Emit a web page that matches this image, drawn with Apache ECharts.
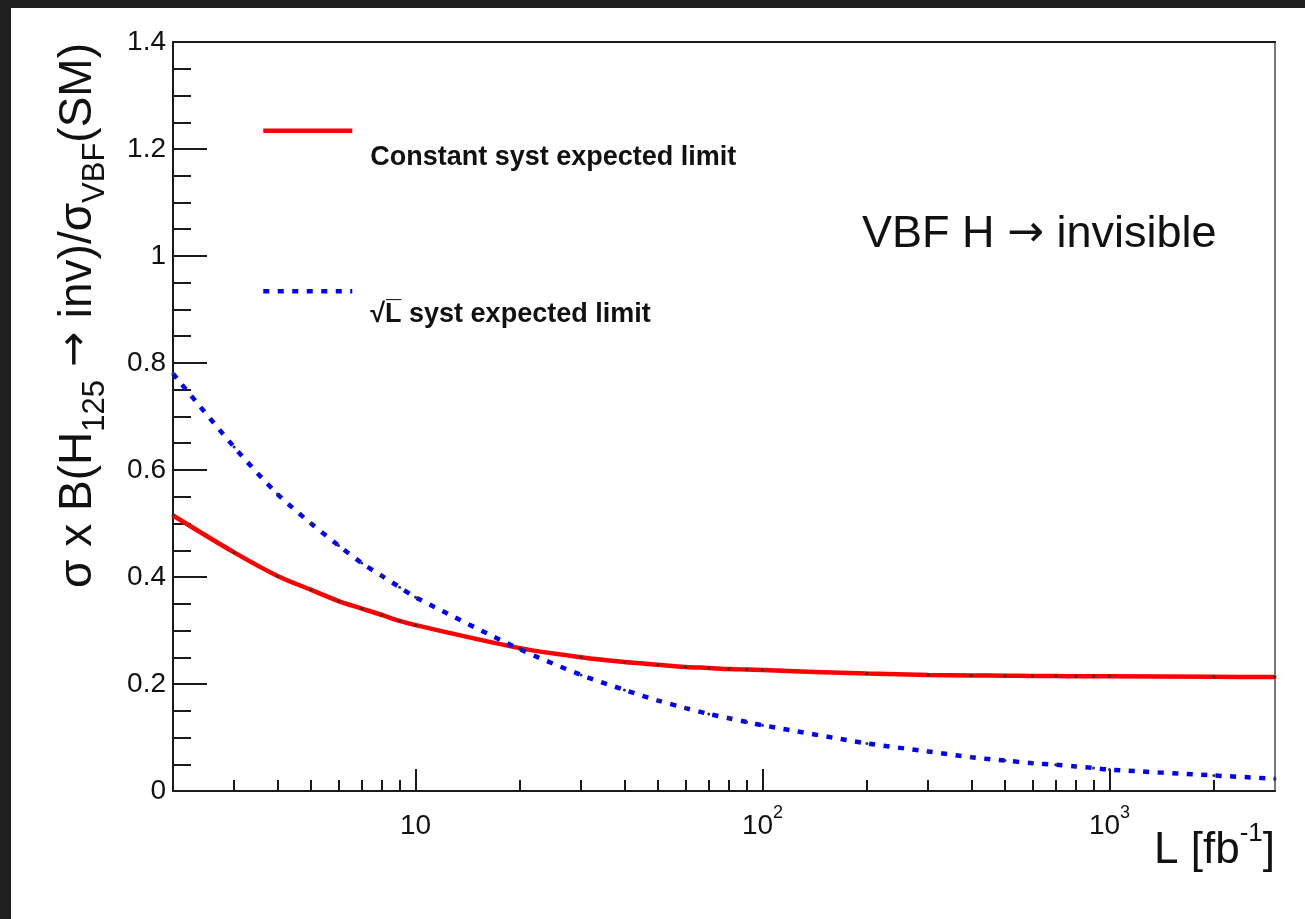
<!DOCTYPE html>
<html><head><meta charset="utf-8">
<script src="https://cdn.jsdelivr.net/npm/echarts@6/dist/echarts.min.js"></script>
<style>
html,body{margin:0;padding:0;background:#1f1f1f;width:1305px;height:919px;overflow:hidden;}
#chart{position:absolute;left:11px;top:8px;width:1294px;height:911px;background:#fff;}
</style></head><body><div id="chart"></div>
<script>
// Integrated luminosity L [fb^-1]
const luminosity = [2,3,4,5,6,7,8,9,10,20,30,40,50,60,70,80,90,100,200,300,400,500,600,700,800,900,1000,2000,3000];
// Constant syst expected limit
const constantSystLimit = [0.515,0.446,0.402,0.376,0.355,0.341,0.329,0.318,0.310,0.267,0.250,0.241,0.236,0.232,0.230,0.228,0.227,0.226,0.2195,0.217,0.216,0.2155,0.215,0.2148,0.2146,0.2145,0.2144,0.2135,0.213];
// sqrt(L) syst expected limit
const sqrtLSystLimit = [0.780,0.643,0.555,0.500,0.459,0.426,0.402,0.381,0.362,0.265,0.217,0.189,0.169,0.155,0.144,0.136,0.129,0.123,0.089,0.074,0.063,0.057,0.052,0.049,0.046,0.043,0.040,0.029,0.023];
const seriesNames = ['Constant syst expected limit', '\u221AL\u0305 syst expected limit'];
const xMajorTicks = [10, 100, 1000];
const xMajorLabels = ['{m|10}', '{m|10}{sup|2}', '{m|10}{sup|3}'];
const xMinorTicks = [3,4,5,6,7,8,9,20,30,40,50,60,70,80,90,200,300,400,500,600,700,800,900,2000];
const xRange = [2, 3000];
const yRange = [0, 1.4];
const yStep = 0.2;
const xTitle = '{m|L [fb}{sup|-1}{m|]}';
const yTitle = '{m|\u03C3 x B(H}{sub|125}{a| \u2192 }{m|inv)/\u03C3}{sub|VBF}{m|(SM)}';
const annotation = '{m|VBF H }{a|\u2192}{m| invisible}';

const FONT = '"Liberation Sans", Arial, Helvetica, sans-serif';
const ARROWFONT = '"DejaVu Sans", sans-serif';
const axisColor = '#1a1a1a';
const txt = '#111';
const lineSt = {color: axisColor, width: 2};

const chart = echarts.init(document.getElementById('chart'), null, {renderer: 'canvas'});

function labelFor(v) {
  for (let i = 0; i < xMajorTicks.length; i++) {
    if (Math.abs(Math.log10(v) - Math.log10(xMajorTicks[i])) < 1e-6) return xMajorLabels[i];
  }
  return '';
}

function legendCfg(name, top, padTop, lineStyle) {
  return {
    data: [name], left: 250, top: top, padding: 0, itemWidth: 89, itemHeight: 5,
    selectedMode: false, itemStyle: {opacity: 0}, lineStyle: lineStyle,
    formatter: n => '{t|' + n + '}',
    textStyle: {fontFamily: FONT, fontWeight: 'bold', fontSize: 27, color: txt,
      rich: {t: {fontFamily: FONT, fontWeight: 'bold', fontSize: 27, color: txt, padding: [padTop, 0, 0, 13]}}}
  };
}

const option = {
  animation: false,
  backgroundColor: '#ffffff',
  grid: {left: 162, top: 34, width: 1102, height: 749, show: false, containLabel: false, outerBoundsMode: 'none'},
  legend: [
    legendCfg(seriesNames[0], 120.5, 54, {width: 4.5, color: '#ff0000'}),
    legendCfg(seriesNames[1], 281, 46, {width: 4.5, color: '#0000ff', type: [6, 8.5]})
  ],
  xAxis: [
    {type: 'log', logBase: 10, min: xRange[0], max: xRange[1], position: 'bottom',
     axisLine: {show: true, lineStyle: lineSt},
     axisTick: {show: true, inside: true, length: 22, customValues: xMajorTicks, lineStyle: lineSt},
     axisLabel: {show: true, customValues: xMajorTicks, formatter: labelFor, margin: 13,
       rich: {m: {fontSize: 28, fontFamily: FONT, color: txt, verticalAlign: 'bottom', lineHeight: 36},
              sup: {fontSize: 18, fontFamily: FONT, color: txt, verticalAlign: 'top', lineHeight: 36}}},
     splitLine: {show: false}, minorTick: {show: false},
     name: xTitle, nameLocation: 'end', nameGap: 0,
     nameTextStyle: {align: 'right', verticalAlign: 'top', padding: [30, 0, 0, 0],
       rich: {m: {fontSize: 44, fontFamily: FONT, color: txt, verticalAlign: 'bottom', lineHeight: 52},
              sup: {fontSize: 26, fontFamily: FONT, color: txt, verticalAlign: 'top', lineHeight: 52}}}},
    {type: 'log', logBase: 10, min: xRange[0], max: xRange[1], position: 'bottom',
     axisLine: {show: false},
     axisTick: {show: true, inside: true, length: 11, customValues: xMinorTicks, lineStyle: lineSt},
     axisLabel: {show: false}, splitLine: {show: false}},
    {type: 'value', min: 0, max: 1, position: 'top',
     axisLine: {show: true, lineStyle: lineSt}, axisTick: {show: false}, axisLabel: {show: false}, splitLine: {show: false}}
  ],
  yAxis: [
    {type: 'value', min: yRange[0], max: yRange[1], interval: yStep, position: 'left',
     axisLine: {show: true, lineStyle: lineSt},
     axisTick: {show: true, inside: true, length: 34, lineStyle: lineSt},
     minorTick: {show: true, splitNumber: 4, length: 18, lineStyle: lineSt},
     axisLabel: {fontSize: 28, fontFamily: FONT, color: txt, margin: 7},
     splitLine: {show: false}, minorSplitLine: {show: false},
     name: yTitle, nameLocation: 'middle', nameRotate: 90, nameGap: 62,
     nameTextStyle: {padding: [0, 0, 0, 202],
       rich: {m: {fontSize: 46, fontFamily: FONT, color: txt, verticalAlign: 'top', lineHeight: 56},
              a: {fontSize: 42, fontFamily: ARROWFONT, color: txt, verticalAlign: 'top', lineHeight: 56},
              sub: {fontSize: 31, fontFamily: FONT, color: txt, verticalAlign: 'bottom', lineHeight: 56}}}},
    {type: 'value', min: 0, max: 1, position: 'right',
     axisLine: {show: true, lineStyle: {color: '#777', width: 2}}, axisTick: {show: false}, axisLabel: {show: false}, splitLine: {show: false}}
  ],
  graphic: [
    {type: 'text', x: 851, y: 227, silent: true,
     style: {text: annotation, align: 'left', verticalAlign: 'middle',
       rich: {m: {fontSize: 45, fontFamily: FONT, fill: txt, color: txt},
              a: {fontSize: 44, fontFamily: ARROWFONT, fill: txt, color: txt}}}}
  ],
  series: [
    {name: seriesNames[0], type: 'line', xAxisIndex: 0, yAxisIndex: 0, smooth: 0.3,
     data: luminosity.map((x, i) => [x, constantSystLimit[i]]),
     symbol: 'circle', symbolSize: 3, showSymbol: true, itemStyle: {color: '#333'},
     lineStyle: {color: '#ff0000', width: 4.5}, emphasis: {disabled: true}, z: 3},
    {name: seriesNames[1], type: 'line', xAxisIndex: 0, yAxisIndex: 0, smooth: 0.3,
     data: luminosity.map((x, i) => [x, sqrtLSystLimit[i]]),
     symbol: 'circle', symbolSize: 3, showSymbol: true, itemStyle: {color: '#333'},
     lineStyle: {color: '#0000ff', width: 4.5, type: [6, 8.5]}, emphasis: {disabled: true}, z: 4}
  ]
};
chart.setOption(option);
</script></body></html>
